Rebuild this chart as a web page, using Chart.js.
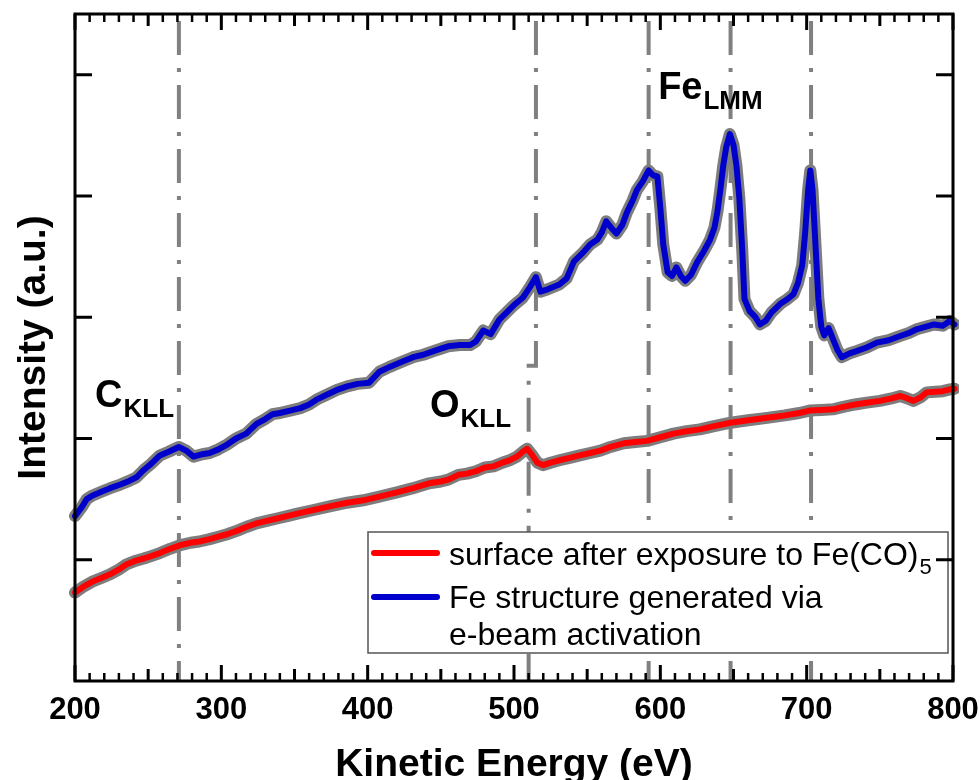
<!DOCTYPE html>
<html><head><meta charset="utf-8">
<script src="https://cdn.jsdelivr.net/npm/chart.js@4.4.1/dist/chart.umd.min.js"></script>
<style>html,body{margin:0;padding:0;background:#fff;} canvas{display:block;}</style>
</head><body>
<canvas id="c" width="980" height="780"></canvas>
<script>
// ---- data ----
const blueEnergy = [200,205,208,212,218,224,231,237,242,247,252,258,264,271,276,281,287,292,298,304,310,317,324,330,335,340,347,354,360,365,372,379,386,393,401,408,415,423,431,438,445,450,455,463,470,474,479,484,490,495,500,506,511,515,518,523,531,536,541,547,552,557,560,563,567,570,574,577,581,584,588,592,595,598,600,602,605,608,611,614,617,621,625,630,634,637,639,641,643,645,647.5,650,652,654,656,657.5,661,665,668,672,676,682,687,691,694,697,699,701,702.5,704,706,708,710,712,715,718,721,724,729,734,741,748,756,764,770,775,781,787,793,798,801];
const blueIntensity = [1.36,1.44,1.50,1.53,1.56,1.59,1.62,1.65,1.68,1.74,1.79,1.86,1.89,1.93,1.90,1.85,1.87,1.88,1.91,1.95,2.00,2.04,2.12,2.16,2.20,2.21,2.23,2.25,2.28,2.32,2.36,2.40,2.43,2.45,2.46,2.55,2.59,2.63,2.67,2.69,2.72,2.74,2.76,2.77,2.77,2.80,2.89,2.86,2.98,3.04,3.10,3.16,3.25,3.33,3.21,3.23,3.27,3.32,3.46,3.53,3.60,3.64,3.70,3.79,3.73,3.69,3.76,3.86,3.96,4.05,4.12,4.21,4.17,4.16,3.90,3.60,3.37,3.34,3.41,3.34,3.30,3.35,3.45,3.55,3.64,3.74,3.87,4.05,4.25,4.40,4.51,4.42,4.25,3.98,3.55,3.15,3.05,3.00,2.94,2.97,3.04,3.11,3.15,3.19,3.28,3.43,3.70,4.05,4.21,4.05,3.60,3.15,2.92,2.85,2.91,2.82,2.73,2.67,2.70,2.72,2.75,2.79,2.81,2.845,2.87,2.90,2.92,2.94,2.93,2.97,2.94];
const redEnergy = [200,206,212,218,224,230,235,241,247,252,258,265,272,279,285,292,298,304,311,317,324,331,338,345,352,363,374,386,397,408,420,431,442,450,455,462,468,474,480,486,492,497,502,506,509,512,516,520,525,531,538,545,552,559,566,575,583,591,600,609,618,627,636,648,660,673,685,695,702,710,718,725,733,741,750,758,764,769,773,778,782,788,793,798,801];
const redIntensity = [0.73,0.78,0.82,0.85,0.88,0.92,0.96,0.99,1.01,1.03,1.055,1.09,1.12,1.14,1.15,1.17,1.19,1.21,1.24,1.27,1.30,1.32,1.34,1.36,1.38,1.41,1.44,1.47,1.49,1.52,1.555,1.59,1.63,1.645,1.66,1.70,1.71,1.73,1.76,1.77,1.80,1.82,1.85,1.89,1.915,1.87,1.80,1.78,1.80,1.82,1.84,1.86,1.88,1.90,1.93,1.96,1.97,1.98,2.01,2.04,2.06,2.075,2.10,2.13,2.15,2.17,2.19,2.21,2.23,2.235,2.24,2.26,2.28,2.295,2.31,2.33,2.35,2.33,2.31,2.34,2.38,2.385,2.39,2.405,2.41];
const xTickValues = [200,300,400,500,600,700,800];
const yTickValues = [1,2,3,4,5];
const peakEnergies = [271,592,648,703];
const oxygenLine = {upper:515, lower:510, stepAt:2.6};
const peakLabels = [
  {main:'C', sub:'KLL', x:213.7, y:2.256},
  {main:'O', sub:'KLL', x:442.6, y:2.174},
  {main:'Fe', sub:'LMM', x:598.5, y:4.80}
];
const seriesLabels = [['surface after exposure to Fe(CO)', '5'], ['Fe structure generated via', 'e-beam activation']];
const seriesColors = ['#ff0000', '#0000cc'];

const FONT = '"Liberation Sans", Arial, sans-serif';
const pts = (xs, ys) => xs.map((x, i) => ({x: x, y: ys[i]}));

const decor = {
  id: 'decor',
  beforeDatasetsDraw(chart) {
    const {ctx, chartArea: a, scales: {x, y}} = chart;
    ctx.save();
    ctx.strokeStyle = '#808080';
    ctx.lineWidth = 4;
    ctx.setLineDash([34, 13, 4, 13]);
    ctx.lineDashOffset = 57;
    peakEnergies.forEach(e => {
      const px = x.getPixelForValue(e);
      ctx.beginPath(); ctx.moveTo(px, a.top); ctx.lineTo(px, a.bottom); ctx.stroke();
    });
    const pu = x.getPixelForValue(oxygenLine.upper), pl = x.getPixelForValue(oxygenLine.lower), ps = y.getPixelForValue(oxygenLine.stepAt);
    ctx.beginPath(); ctx.moveTo(pu, a.top); ctx.lineTo(pu, ps); ctx.lineTo(pl, ps); ctx.lineTo(pl, a.bottom); ctx.stroke();
    ctx.restore();
  },
  afterDatasetsDraw(chart) {
    const {ctx, chartArea: a} = chart;
    // legend
    const bx = 368, by = 532, bw = a.right - 5 - 368, bh = 121;
    ctx.save();
    ctx.fillStyle = '#fff';
    ctx.fillRect(bx, by, bw, bh);
    ctx.strokeStyle = '#555';
    ctx.lineWidth = 1.5;
    ctx.strokeRect(bx, by, bw, bh);
    const rows = [{ly: 553, tb: [565]}, {ly: 597, tb: [608, 645]}];
    rows.forEach((r, i) => {
      ctx.strokeStyle = seriesColors[i];
      ctx.lineWidth = 6; ctx.lineCap = 'round';
      ctx.beginPath(); ctx.moveTo(bx + 6, r.ly); ctx.lineTo(bx + 69, r.ly); ctx.stroke();
      ctx.fillStyle = '#000';
      ctx.textBaseline = 'alphabetic'; ctx.textAlign = 'left';
      ctx.font = '32px ' + FONT;
      if (i === 0) {
        ctx.fillText(seriesLabels[0][0], bx + 81, r.tb[0]);
        const w = ctx.measureText(seriesLabels[0][0]).width;
        ctx.font = '22px ' + FONT;
        ctx.fillText(seriesLabels[0][1], bx + 82 + w, r.tb[0] + 9);
      } else {
        ctx.fillText(seriesLabels[1][0], bx + 81, r.tb[0]);
        ctx.fillText(seriesLabels[1][1], bx + 81, r.tb[1]);
      }
    });
    ctx.restore();
  },
  afterDraw(chart) {
    const {ctx, chartArea: a, scales: {x, y}} = chart;
    ctx.save();
    ctx.strokeStyle = '#000';
    // ticks
    for (let v = 200; v <= 800; v += 10) {
      const px = x.getPixelForValue(v);
      const len = (v % 100 === 0) ? 16 : (v % 50 === 0 ? 12 : 8);
      ctx.lineWidth = (v % 50 === 0) ? 3 : 2.5;
      ctx.beginPath();
      ctx.moveTo(px, a.bottom); ctx.lineTo(px, a.bottom - len);
      ctx.moveTo(px, a.top); ctx.lineTo(px, a.top + len);
      ctx.stroke();
    }
    ctx.lineWidth = 3;
    yTickValues.forEach(v => {
      const py = y.getPixelForValue(v);
      ctx.beginPath();
      ctx.moveTo(a.left, py); ctx.lineTo(a.left + 17, py);
      ctx.moveTo(a.right, py); ctx.lineTo(a.right - 17, py);
      ctx.stroke();
    });
    ctx.lineWidth = 3;
    ctx.strokeRect(a.left, a.top, a.right - a.left, a.bottom - a.top);
    // peak labels
    ctx.fillStyle = '#000';
    ctx.textBaseline = 'alphabetic'; ctx.textAlign = 'left';
    peakLabels.forEach(l => {
      const px = x.getPixelForValue(l.x), py = y.getPixelForValue(l.y);
      ctx.font = 'bold 38px ' + FONT;
      ctx.fillText(l.main, px, py);
      const w = ctx.measureText(l.main).width;
      ctx.font = 'bold 26px ' + FONT;
      ctx.fillText(l.sub, px + w + 1, py + 10);
    });
    ctx.restore();
  }
};

const common = {pointRadius: 0, borderCapStyle: 'round', borderJoinStyle: 'round', tension: 0, fill: false, clip: 6};
new Chart(document.getElementById('c'), {
  type: 'line',
  data: {
    datasets: [
      Object.assign({label: 'surface after exposure to Fe(CO)5', data: pts(redEnergy, redIntensity), borderColor: seriesColors[0], borderWidth: 6, order: 1}, common),
      Object.assign({label: 'Fe structure generated via e-beam activation', data: pts(blueEnergy, blueIntensity), borderColor: seriesColors[1], borderWidth: 6, order: 1}, common),
      Object.assign({label: 'raw data (surface)', data: pts(redEnergy, redIntensity), borderColor: '#7d7d7d', borderWidth: 12, order: 2}, common),
      Object.assign({label: 'raw data (Fe structure)', data: pts(blueEnergy, blueIntensity), borderColor: '#7d7d7d', borderWidth: 12, order: 2}, common)
    ]
  },
  options: {
    responsive: false, animation: false, devicePixelRatio: 1,
    layout: {padding: {top: 14, right: 27, left: 0, bottom: 0}},
    plugins: {legend: {display: false}, tooltip: {enabled: false}},
    scales: {
      x: {
        type: 'linear', min: 200, max: 800,
        afterFit(s) { s.height = 99; s.paddingLeft = 0; s.paddingRight = 0; },
        afterBuildTicks(s) { s.ticks = xTickValues.map(v => ({value: v})); },
        ticks: {font: {family: FONT, size: 31, weight: 'bold'}, color: '#000', padding: 11, maxRotation: 0, autoSkip: false},
        grid: {display: false, drawTicks: false},
        border: {display: false},
        title: {display: true, text: 'Kinetic Energy (eV)', color: '#000', font: {family: FONT, size: 39, weight: 'bold', lineHeight: 0.7}, padding: 1}
      },
      y: {
        type: 'linear', min: 0, max: 5.5,
        afterFit(s) { s.width = 75; },
        afterBuildTicks(s) { s.ticks = yTickValues.map(v => ({value: v})); },
        ticks: {display: false},
        grid: {display: false, drawTicks: false},
        border: {display: false},
        title: {display: true, text: 'Intensity (a.u.)', color: '#000', font: {family: FONT, size: 39, weight: 'bold'}, padding: {top: 11, bottom: 0}}
      }
    }
  },
  plugins: [decor]
});
</script>
</body></html>
